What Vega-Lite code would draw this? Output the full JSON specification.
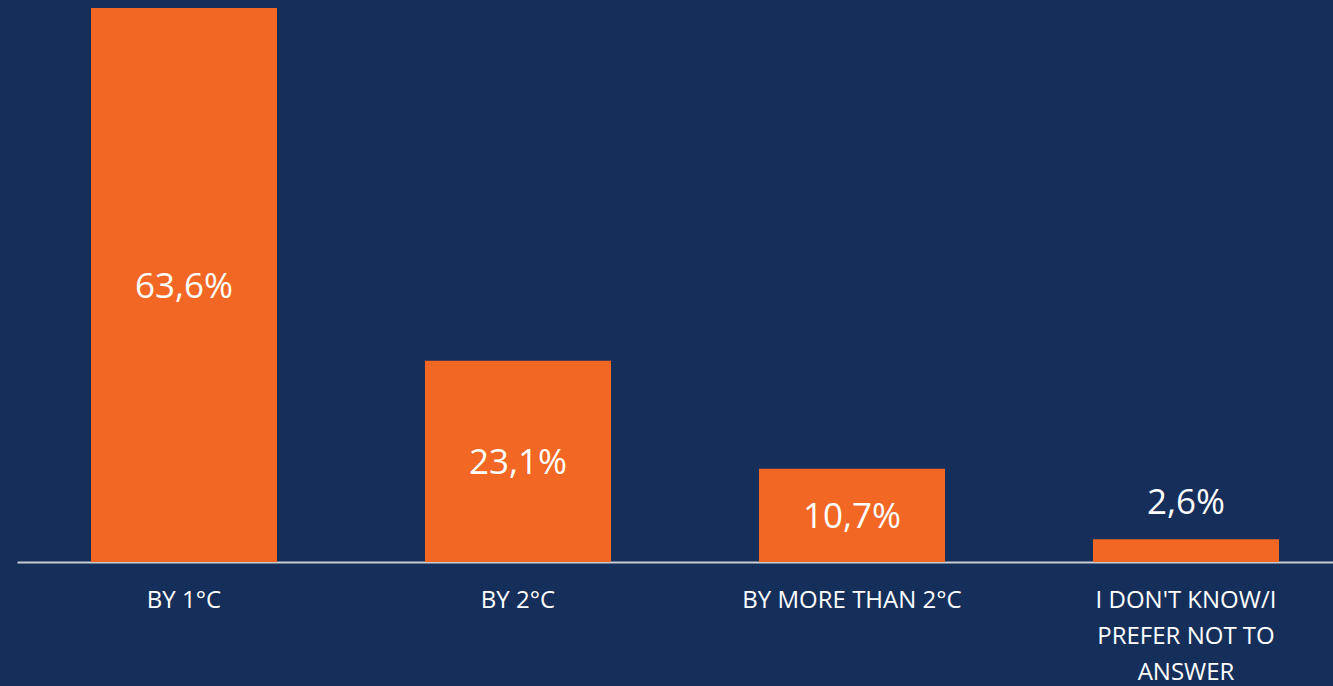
{
  "$schema": "https://vega.github.io/schema/vega-lite/v6.json",
  "width": 1336,
  "height": 554,
  "autosize": {"type": "none"},
  "padding": {"left": 17, "top": 8, "right": 0, "bottom": 124},
  "background": "#152e5a",
  "config": {"view": {"stroke": null}},
  "data": {
    "values": [
      {"answer": "BY 1°C", "value": 63.6, "label": "63,6%"},
      {"answer": "BY 2°C", "value": 23.1, "label": "23,1%"},
      {"answer": "BY MORE THAN 2°C", "value": 10.7, "label": "10,7%"},
      {"answer": "I DON'T KNOW/I PREFER NOT TO ANSWER", "value": 2.6, "label": "2,6%"}
    ]
  },
  "encoding": {
    "x": {
      "field": "answer",
      "type": "nominal",
      "sort": null,
      "scale": {"paddingInner": 0.443, "paddingOuter": 0.2215},
      "axis": {
        "title": null,
        "domain": true,
        "domainColor": "#c9ccd3",
        "domainWidth": 2,
        "ticks": false,
        "labelAngle": 0,
        "labelFont": "Open Sans",
        "labelFontSize": 24,
        "labelColor": "#ffffff",
        "labelPadding": 26,
        "labelLineHeight": 36,
        "labelLimit": 0,
        "labelExpr": "datum.value == \"I DON'T KNOW/I PREFER NOT TO ANSWER\" ? [\"I DON'T KNOW/I\", 'PREFER NOT TO', 'ANSWER'] : datum.label"
      }
    }
  },
  "layer": [
    {
      "mark": {"type": "bar", "color": "#f26724"},
      "encoding": {
        "y": {"field": "value", "type": "quantitative", "scale": {"domain": [0, 63.6], "nice": false}, "axis": null}
      }
    },
    {
      "transform": [{"filter": "datum.value > 5"}, {"calculate": "datum.value / 2", "as": "mid"}],
      "mark": {"type": "text", "color": "#ffffff", "font": "Open Sans", "fontSize": 35, "baseline": "middle", "dy": 2},
      "encoding": {
        "y": {"field": "mid", "type": "quantitative", "scale": {"domain": [0, 63.6], "nice": false}},
        "text": {"field": "label"}
      }
    },
    {
      "transform": [{"filter": "datum.value <= 5"}],
      "mark": {"type": "text", "color": "#ffffff", "font": "Open Sans", "fontSize": 35, "baseline": "bottom", "dy": -18},
      "encoding": {
        "y": {"field": "value", "type": "quantitative", "scale": {"domain": [0, 63.6], "nice": false}},
        "text": {"field": "label"}
      }
    }
  ]
}
